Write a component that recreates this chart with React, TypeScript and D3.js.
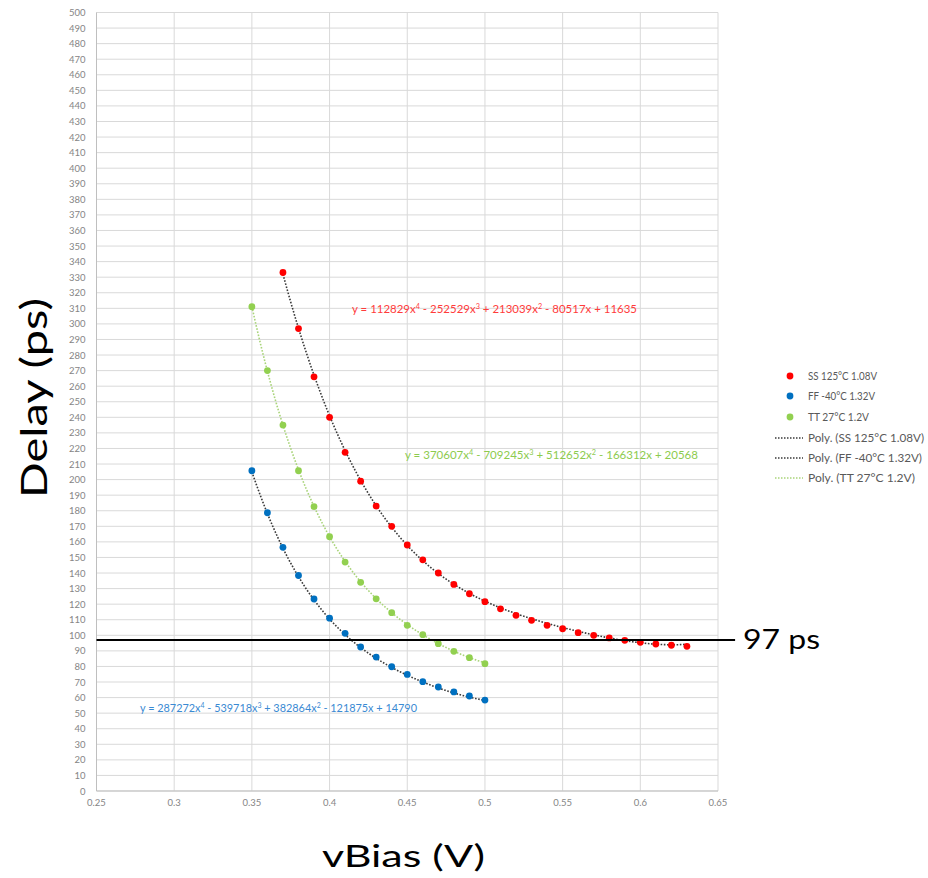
import React from "react";
import * as d3 from "d3";

// Delay (ps) measured against bias voltage at three process corners
const vBiasSS = [0.37, 0.38, 0.39, 0.40, 0.41, 0.42, 0.43, 0.44, 0.45, 0.46, 0.47, 0.48, 0.49, 0.50, 0.51, 0.52, 0.53, 0.54, 0.55, 0.56, 0.57, 0.58, 0.59, 0.60, 0.61, 0.62, 0.63];
const delaySS = [333, 297, 266, 240, 217.5, 199, 183, 170, 158, 148.5, 140, 132.7, 126.7, 121.6, 117, 112.8, 109.6, 106.4, 104.2, 101.7, 100, 98.3, 96.8, 95.5, 94.4, 93.6, 92.9];

const vBiasFF = [0.35, 0.36, 0.37, 0.38, 0.39, 0.40, 0.41, 0.42, 0.43, 0.44, 0.45, 0.46, 0.47, 0.48, 0.49, 0.50];
const delayFF = [205.7, 178.7, 156.5, 138.4, 123.3, 111, 101.3, 92.5, 86, 79.8, 74.9, 70.2, 66.8, 63.6, 61, 58.4];

const vBiasTT = [0.35, 0.36, 0.37, 0.38, 0.39, 0.40, 0.41, 0.42, 0.43, 0.44, 0.45, 0.46, 0.47, 0.48, 0.49, 0.50];
const delayTT = [311, 270, 235, 205.7, 182.6, 163.3, 147, 134, 123.4, 114.5, 106.4, 100.4, 94.6, 89.7, 85.6, 81.8];

// 4th-order polynomial trendline coefficients, highest power first
const polySS = [112829, -252529, 213039, -80517, 11635];
const polyFF = [287272, -539718, 382864, -121875, 14790];
const polyTT = [370607, -709245, 512652, -166312, 20568];

const seriesNames = ["SS 125°C 1.08V", "FF -40°C 1.32V", "TT 27°C 1.2V"];

const xTicks = [0.25, 0.3, 0.35, 0.4, 0.45, 0.5, 0.55, 0.6, 0.65];
const yTicks = d3.range(0, 501, 10);

// Delay target
const targetDelay = 97;
const targetLabel = "97 ps";
const targetSpan = [0.25, 0.661];

const W = 928;
const H = 878;
const FONT = "Lato, 'Open Sans', sans-serif";

const x = d3.scaleLinear().domain([0.25, 0.65]).range([96.5, 718]);
const y = d3.scaleLinear().domain([0, 500]).range([791, 12.5]);

function polyVal(c: number[], v: number) {
  return c.reduce((acc, k) => acc * v + k, 0);
}

function trendPath(c: number[], xs: number[]) {
  const lo = xs[0];
  const hi = xs[xs.length - 1];
  const pts = d3.range(0, 101).map((i) => {
    const v = lo + ((hi - lo) * i) / 100;
    return [v, polyVal(c, v)] as [number, number];
  });
  return d3
    .line<[number, number]>()
    .x((d) => x(d[0]))
    .y((d) => y(d[1]))(pts) as string;
}

function Equation({
  c,
  px,
  py,
  len,
  color,
}: {
  c: number[];
  px: number;
  py: number;
  len: number;
  color: string;
}) {
  const parts: React.ReactNode[] = [];
  let pendingDy = 0;
  c.forEach((k, i) => {
    const power = c.length - 1 - i;
    const abs = Math.abs(k);
    const sign = i === 0 ? (k < 0 ? "-" : "") : k < 0 ? " - " : " + ";
    const body = (i === 0 ? "y = " : "") + sign + abs + (power >= 1 ? "x" : "");
    parts.push(
      <tspan key={`p${i}`} dy={pendingDy || undefined}>
        {body}
      </tspan>
    );
    pendingDy = 0;
    if (power >= 2) {
      parts.push(
        <tspan key={`s${i}`} dy={-4} fontSize={7}>
          {power}
        </tspan>
      );
      pendingDy = 4;
    }
  });
  return (
    <text
      x={px}
      y={py}
      fill={color}
      fontSize={11}
      fontFamily={FONT}
      textLength={len}
      lengthAdjust="spacingAndGlyphs"
    >
      {parts}
    </text>
  );
}

export default function App() {
  const colors = ["#FF0000", "#0070C0", "#92D050"];
  const trendColors = ["#3a3a3a", "#3a3a3a", "#A9D47A"];
  const series = [
    { xs: vBiasSS, ys: delaySS, poly: polySS },
    { xs: vBiasFF, ys: delayFF, poly: polyFF },
    { xs: vBiasTT, ys: delayTT, poly: polyTT },
  ];

  const legendRows = [376, 396, 417, 438, 458, 478];
  const legendLens = [69, 67, 61, 116, 114, 107];

  return (
    <svg
      width={W}
      height={H}
      viewBox={`0 0 ${W} ${H}`}
      style={{ position: "absolute", left: 0, top: 0, background: "#fff" }}
    >
      {/* grid */}
      {yTicks.map((t) => (
        <line key={`gy${t}`} x1={x(0.25)} x2={x(0.65)} y1={y(t)} y2={y(t)} stroke="#d9d9d9" strokeWidth={1} />
      ))}
      {xTicks.map((t) => (
        <line key={`gx${t}`} x1={x(t)} x2={x(t)} y1={y(0)} y2={y(500)} stroke="#d9d9d9" strokeWidth={1} />
      ))}
      <line x1={x(0.25)} x2={x(0.65)} y1={y(0)} y2={y(0)} stroke="#bfbfbf" strokeWidth={1} />
      <line x1={x(0.25)} x2={x(0.25)} y1={y(0)} y2={y(500)} stroke="#bfbfbf" strokeWidth={1} />

      {/* tick labels */}
      {yTicks.map((t) => (
        <text
          key={`ty${t}`}
          x={x(0.25) - 11}
          y={y(t) + 3.5}
          textAnchor="end"
          fontSize={9.5}
          fill="#858585"
          fontFamily={FONT}
        >
          {t}
        </text>
      ))}
      {xTicks.map((t) => (
        <text
          key={`tx${t}`}
          x={x(t)}
          y={y(0) + 15}
          textAnchor="middle"
          fontSize={9.5}
          fill="#858585"
          fontFamily={FONT}
        >
          {String(t)}
        </text>
      ))}

      {/* trendlines */}
      {series.map((s, i) => (
        <path
          key={`tr${i}`}
          d={trendPath(s.poly, s.xs)}
          fill="none"
          stroke={trendColors[i]}
          strokeWidth={1.6}
          strokeDasharray="1.6,1.6"
        />
      ))}

      {/* points */}
      {series.map((s, i) =>
        s.xs.map((v, j) => (
          <circle key={`pt${i}-${j}`} cx={x(v)} cy={y(s.ys[j])} r={3.4} fill={colors[i]} />
        ))
      )}

      {/* target line */}
      <line
        x1={x(targetSpan[0])}
        x2={x(targetSpan[1])}
        y1={y(targetDelay)}
        y2={y(targetDelay)}
        stroke="#000"
        strokeWidth={2}
      />
      <text
        x={743}
        y={y(targetDelay) + 9}
        fontSize={26}
        fontFamily={FONT}
        fill="#000"
        textLength={77}
        lengthAdjust="spacingAndGlyphs"
      >
        {targetLabel}
      </text>

      {/* trendline equations */}
      <Equation c={polySS} px={352} py={313} len={285} color="#FF3B3B" />
      <Equation c={polyTT} px={405} py={459} len={293} color="#8DCB4E" />
      <Equation c={polyFF} px={140} py={712} len={277} color="#3A8AD3" />

      {/* legend */}
      {seriesNames.map((n, i) => (
        <g key={`lg${i}`}>
          <circle cx={790} cy={legendRows[i]} r={3.4} fill={colors[i]} />
          <text
            x={808}
            y={legendRows[i] + 3.5}
            fontSize={10.5}
            fill="#595959"
            fontFamily={FONT}
            textLength={legendLens[i]}
            lengthAdjust="spacingAndGlyphs"
          >
            {n}
          </text>
        </g>
      ))}
      {seriesNames.map((n, i) => (
        <g key={`lt${i}`}>
          <line
            x1={775}
            x2={803}
            y1={legendRows[i + 3]}
            y2={legendRows[i + 3]}
            stroke={trendColors[i]}
            strokeWidth={1.5}
            strokeDasharray="1.5,1.5"
          />
          <text
            x={808}
            y={legendRows[i + 3] + 3.5}
            fontSize={10.5}
            fill="#595959"
            fontFamily={FONT}
            textLength={legendLens[i + 3]}
            lengthAdjust="spacingAndGlyphs"
          >
            {`Poly. (${n})`}
          </text>
        </g>
      ))}

      {/* axis titles */}
      <text
        transform={`translate(47, 398) rotate(-90)`}
        textAnchor="middle"
        fontSize={37}
        fontFamily={FONT}
        fill="#000"
        textLength={200}
        lengthAdjust="spacingAndGlyphs"
      >
        Delay (ps)
      </text>
      <text
        x={403.5}
        y={867}
        textAnchor="middle"
        fontSize={31}
        fontFamily={FONT}
        fill="#000"
        textLength={163}
        lengthAdjust="spacingAndGlyphs"
      >
        vBias (V)
      </text>
    </svg>
  );
}
